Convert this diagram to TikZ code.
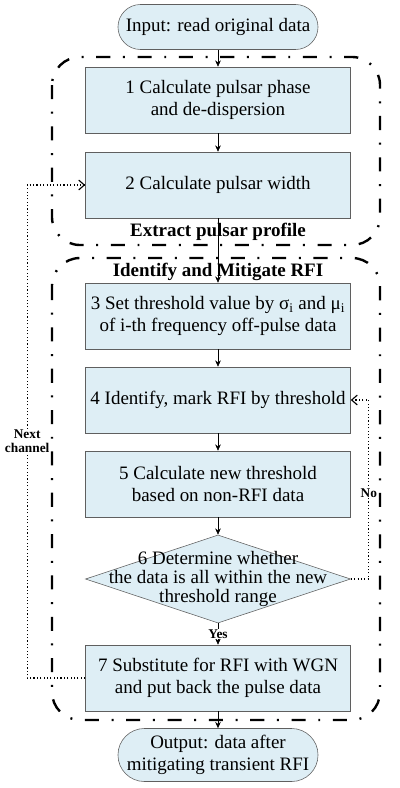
\documentclass[tikz,border=0pt]{standalone}
\usepackage{fontspec}
\setmainfont{Liberation Serif}
\usetikzlibrary{arrows.meta,shapes.geometric}
\definecolor{boxfill}{RGB}{222,238,245}
\definecolor{boxline}{RGB}{95,95,95}

\begin{document}
\begin{tikzpicture}[x=0.025cm, y=-0.025cm,
		font=\fontsize{13.5}{16}\selectfont,
		procbox/.style={draw=boxline, fill=boxfill, minimum width=6.625cm, minimum height=1.65cm, align=center, inner sep=0pt},
		termbox/.style={draw=boxline, fill=boxfill, minimum width=5cm, align=center, inner sep=0pt},
		flow/.style={-{Stealth[length=4.5pt,width=4pt]}},
		loopback/.style={line width=0.8pt, dash pattern=on 0.8pt off 1.6pt, -{Straight Barb[length=4pt,width=7pt]}},
		group/.style={line width=1.7pt, dash pattern=on 10pt off 9pt on 1.4pt off 9pt, rounded corners=0.7cm},
		grouptitle/.style={font=\fontsize{13.5}{16}\selectfont\bfseries},
		tag/.style={font=\fontsize{9.5}{10}\selectfont\bfseries, fill=white, inner sep=0.5pt, align=center}]

		\useasboundingbox (0,0) rectangle (400,788);

		\draw[group] (52,57) rectangle (380,245);
		\draw[group] (52,258) rectangle (380,720);
		\node[grouptitle] (extract) at (218,232) {Extract pulsar profile};
		\node[grouptitle] (mitigate) at (218,272) {Identify and Mitigate RFI};

		\node[termbox, minimum height=1.125cm, rounded corners=0.5625cm] (input) at (218,27) {Input: read original data};
		\node[procbox] (step1) at (218,100) {1 Calculate pulsar phase\\and de-dispersion};
		\node[procbox] (step2) at (218,185) {2 Calculate pulsar width};
		\node[procbox] (step3) at (218,316) {3 Set threshold value by σ\textsubscript{i} and μ\textsubscript{i}\\of i-th frequency off-pulse data};
		\node[procbox] (step4) at (218,400) {4 Identify, mark RFI by threshold};
		\node[procbox] (step5) at (218,484) {5 Calculate new threshold\\based on non-RFI data};
		\node[diamond, draw=boxline, fill=boxfill, minimum width=6.625cm, minimum height=2.2cm, inner sep=0pt,
			label={[align=center, font=\fontsize{13.5}{13.5}\selectfont]center:{6 Determine whether\\the data is all within the new\\threshold range}}] (decide) at (218,579) {};
		\node[procbox] (step7) at (218,678) {7 Substitute for RFI with WGN\\and put back the pulse data};
		\node[termbox, minimum height=1.325cm, rounded corners=0.66cm] (output) at (218,755) {Output: data after\\mitigating transient RFI};

		\draw[flow] (input) -- (step1);
		\draw[flow] (step1) -- (step2);
		\draw[flow] (step2) -- (step3);
		\draw[flow] (step3) -- (step4);
		\draw[flow] (step4) -- (step5);
		\draw[flow] (step5) -- (decide);
		\draw[flow] (decide) -- node[tag] {Yes} (step7);
		\draw[flow] (step7) -- (output);

		\draw[loopback] (step7.west) -- ++(-58,0) |- node[tag, pos=0.24] {Next\\channel} (step2.west);
		\draw[loopback] (decide.east) -- ++(18,0) |- node[tag, pos=0.24] {No} (step4.east);

	\end{tikzpicture}
\end{document}
